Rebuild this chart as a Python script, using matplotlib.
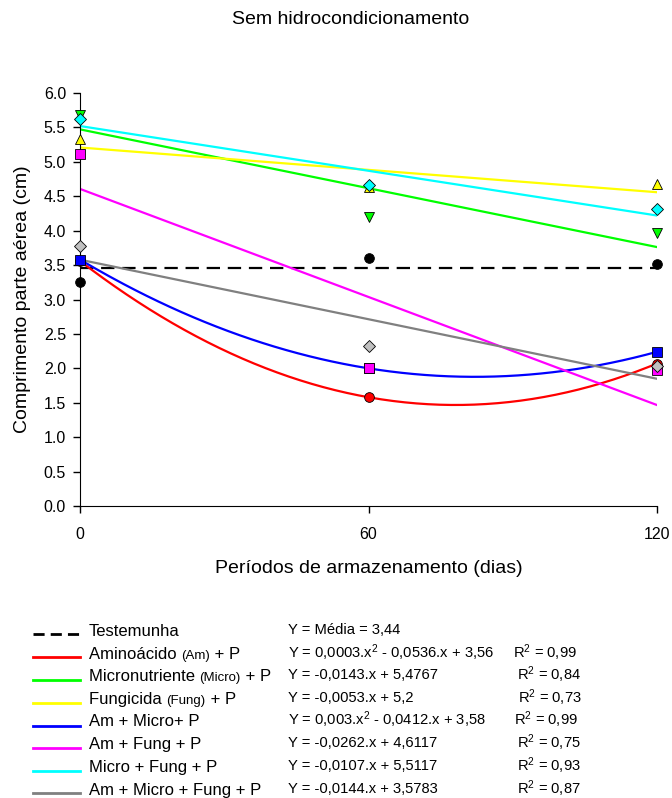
import numpy as np
import matplotlib
matplotlib.use("Agg")
import matplotlib.pyplot as plt
from matplotlib.lines import Line2D

plt.rcParams['font.family'] = ['Liberation Sans', 'DejaVu Sans']
plt.rcParams['mathtext.fontset'] = 'custom'
plt.rcParams['mathtext.rm'] = 'Liberation Sans'
plt.rcParams['mathtext.it'] = 'Liberation Sans'

# --- DADOS ---
dias = [0, 60, 120]
testemunha = [3.25, 3.60, 3.52]
aminoacido = [3.56, 1.58, 2.07]
micro = [5.68, 4.20, 3.97]
fung = [5.33, 4.64, 4.68]
am_micro = [3.58, 2.00, 2.24]
am_fung = [5.12, 2.01, 1.98]
micro_fung = [5.62, 4.67, 4.32]
am_micro_fung = [3.77, 2.33, 2.04]

series = [testemunha, aminoacido, micro, fung, am_micro, am_fung, micro_fung, am_micro_fung]
graus = [0, 2, 1, 1, 2, 1, 1, 1]
cores_linha = ['black', '#FF0000', '#00FF00', '#FFFF00', '#0000FF', '#FF00FF', '#00FFFF', '#808080']
cores_marc = ['black', '#FF0000', '#00FF00', '#FFFF00', '#0000FF', '#FF00FF', '#00FFFF', '#C0C0C0']
marcadores = ['o', 'o', 'v', '^', 's', 's', 'D', 'D']

nomes = [
    [("Testemunha", 12)],
    [("Aminoácido ", 12), ("(Am)", 9.5), (" + P", 12)],
    [("Micronutriente ", 12), ("(Micro)", 9.5), (" + P", 12)],
    [("Fungicida ", 12), ("(Fung)", 9.5), (" + P", 12)],
    [("Am + Micro+ P", 12)],
    [("Am + Fung + P", 12)],
    [("Micro + Fung + P", 12)],
    [("Am + Micro + Fung + P", 12)],
]
equacoes = [
    "Y = Média = 3,44",
    "Y = 0,0003.x$^2$ - 0,0536.x + 3,56",
    "Y = -0,0143.x + 5,4767",
    "Y = -0,0053.x + 5,2",
    "Y = 0,003.x$^2$ - 0,0412.x + 3,58",
    "Y = -0,0262.x + 4,6117",
    "Y = -0,0107.x + 5,5117",
    "Y = -0,0144.x + 3,5783",
]
r2 = ["", "0,99", "0,84", "0,73", "0,99", "0,75", "0,93", "0,87"]

W, H = 672, 798
fig = plt.figure(figsize=(W / 100, H / 100), dpi=100)
ax = fig.add_axes([80 / W, 1 - 506 / H, 577 / W, 413 / H])

# --- CURVAS DE TENDENCIA ---
xx = np.linspace(0, 120, 200)
for i, ys in enumerate(series):
    coef = np.polyfit(dias, ys, graus[i])
    yy = np.polyval(coef, xx)
    if i == 0:
        ax.plot(xx, yy, color='black', lw=1.6, dashes=(6, 3.5), zorder=2)
    else:
        ax.plot(xx, yy, color=cores_linha[i], lw=1.6, zorder=2)

# --- PONTOS ---
for i, ys in enumerate(series):
    ax.plot(dias, ys, linestyle='none', marker=marcadores[i], markersize=7 if marcadores[i] != 'D' else 6.3,
            markerfacecolor=cores_marc[i], markeredgecolor='black', markeredgewidth=0.6,
            clip_on=False, zorder=3 + i)

ax.set_xlim(0, 120)
ax.set_ylim(0, 6)
ax.set_xticks([0, 60, 120])
ax.set_yticks(np.arange(0, 6.01, 0.5))
ax.yaxis.set_major_formatter(matplotlib.ticker.FormatStrFormatter('%.1f'))
ax.spines['top'].set_visible(False)
ax.spines['right'].set_visible(False)
ax.tick_params(direction='out', length=5, width=1, labelsize=11.5, pad=5)
ax.tick_params(axis='x', pad=10)
ax.set_xlabel('Períodos de armazenamento (dias)', fontsize=14, labelpad=13)
ax.set_ylabel('Comprimento parte aérea (cm)', fontsize=14, labelpad=9)
fig.text(351 / W, 1 - 20 / H, 'Sem hidrocondicionamento', fontsize=14, ha='center', va='center')

# --- LEGENDA MANUAL ---
fig.canvas.draw()
renderer = fig.canvas.get_renderer()
linhas_y = [634, 657, 680, 703, 726, 748, 771, 793]
texto_y = [630, 653, 675, 698, 720, 743, 766, 789]
r2_x = [0, 513, 517, 518, 514, 517, 517, 517]
for i in range(8):
    yl = 1 - linhas_y[i] / H
    if i == 0:
        fig.add_artist(Line2D([33 / W, 80 / W], [yl, yl], color='black', lw=2, dashes=(4, 2.2)))
    else:
        fig.add_artist(Line2D([33 / W, 80 / W], [yl, yl], color=cores_linha[i], lw=2))
    yb = 1 - (texto_y[i] + 6) / H
    xpos = 89
    for txt, fs in nomes[i]:
        t = fig.text(xpos / W, yb, txt, fontsize=fs, va='baseline', ha='left')
        bb = t.get_window_extent(renderer)
        xpos = bb.x1
    yt = 1 - texto_y[i] / H
    fig.text(288 / W, yt, equacoes[i], fontsize=10.6, va='center', ha='left')
    if r2[i]:
        fig.text(r2_x[i] / W, yt, "R$^2$ = " + r2[i], fontsize=10.6, va='center', ha='left')

fig.savefig('out.png', dpi=100)
